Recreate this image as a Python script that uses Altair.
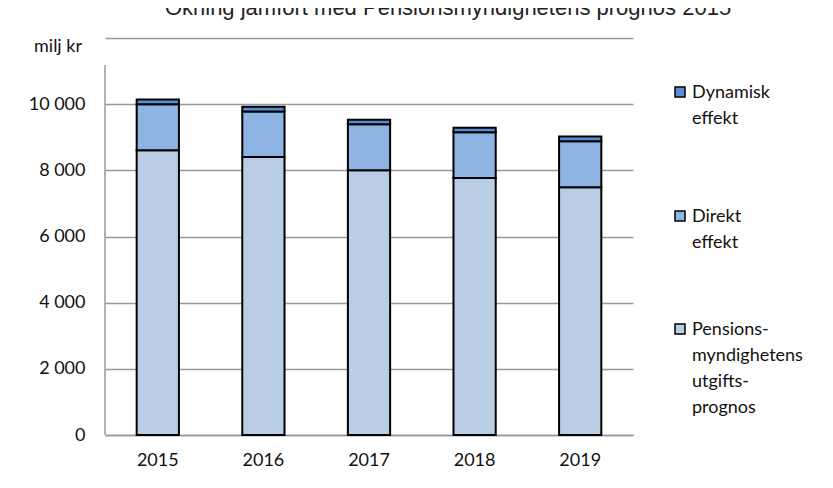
import altair as alt
import pandas as pd

years = ["2015", "2016", "2017", "2018", "2019"]
series = ["Pensionsmyndighetens utgiftsprognos", "Direkt effekt", "Dynamisk effekt"]
base_values = [8610, 8400, 8000, 7770, 7490]
direct_values = [1390, 1380, 1390, 1380, 1390]
dynamic_values = [140, 140, 140, 140, 140]
colors = ["#B9CDE5", "#8EB4E3", "#558ED5"]
legend_lines = [["Pensions-", "myndighetens", "utgifts-", "prognos"],
                ["Direkt", "effekt"],
                ["Dynamisk", "effekt"]]
y_ticks = [0, 2000, 4000, 6000, 8000, 10000, 12000]
title_text = "Ökning jämfört med Pensionsmyndighetens prognos 2015"
unit_text = "milj kr"

rows = []
for i, y in enumerate(years):
    for k, (s, vals) in enumerate(zip(series, [base_values, direct_values, dynamic_values])):
        rows.append({"year": y, "series": s, "value": vals[i], "order": k})
df = pd.DataFrame(rows)

FONT = "Lato"
W, H = 528, 397

bars = alt.Chart(df).mark_bar(stroke="black", strokeWidth=2).encode(
    x=alt.X("year:N", title=None, sort=years,
            scale=alt.Scale(paddingInner=0.6, paddingOuter=0.3),
            axis=alt.Axis(labelAngle=0, ticks=False, domain=True, domainColor="#999999",
                          domainWidth=1.5, labelPadding=16, labelFontSize=18,
                          labelFont=FONT, labelColor="#111111", grid=False)),
    y=alt.Y("value:Q", title=None, stack="zero",
            scale=alt.Scale(domain=[0, 12000], nice=False),
            axis=alt.Axis(values=y_ticks, ticks=False, domain=False, grid=True,
                          gridColor="#999999", gridWidth=1.5, labelPadding=20,
                          labelFontSize=18, labelFont=FONT, labelColor="#111111",
                          labelExpr="datum.value == 12000 ? '' : replace(format(datum.value, ','), ',', ' ')")),
    color=alt.Color("series:N", sort=series,
                    scale=alt.Scale(domain=series, range=colors), legend=None),
    order=alt.Order("order:Q", sort="ascending"),
)

one = pd.DataFrame({"a": [0]})

axis_line = alt.Chart(one).mark_rule(color="#999999", strokeWidth=1.5).encode(
    x=alt.value(0), y=alt.value(27), y2=alt.value(H)
)

unit = alt.Chart(one).mark_text(text=unit_text, font=FONT, fontSize=18, align="right",
                                baseline="middle", color="#111111").encode(
    x=alt.value(-23), y=alt.value(9)
)

title = alt.Chart(one).mark_text(text=title_text, font="Liberation Sans", fontSize=22,
                                 align="center", baseline="alphabetic", color="#222222").encode(
    x=alt.value(343), y=alt.value(-23)
)

legend_layers = []
sq_y = [291, 178, 54]
for k in range(3):
    legend_layers.append(
        alt.Chart(one).mark_square(size=100, fill=colors[k], stroke="black", strokeWidth=1.5,
                                   opacity=1).encode(x=alt.value(575), y=alt.value(sq_y[k]))
    )
    legend_layers.append(
        alt.Chart(one).mark_text(text=legend_lines[k], font=FONT, fontSize=18, align="left",
                                 baseline="middle", lineHeight=26, color="#111111").encode(
            x=alt.value(587), y=alt.value(sq_y[k] + 1))
    )

chart = alt.layer(bars, axis_line, unit, title, *legend_layers).properties(
    width=W, height=H,
    padding={"left": 97, "top": 30, "right": 192, "bottom": 45},
    autosize=alt.AutoSizeParams(type="none"),
).configure_view(stroke=None)

chart.save("out.html", embed_options={"renderer": "svg", "actions": False})
